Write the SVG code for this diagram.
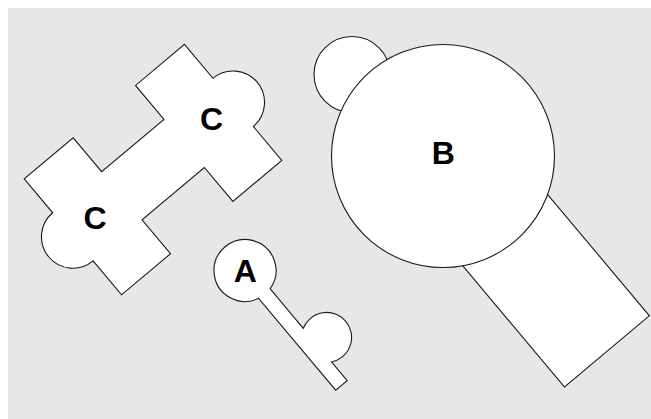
<svg xmlns="http://www.w3.org/2000/svg" width="651" height="419" viewBox="0 0 651 419">
<style>
.shape{fill:#ffffff;stroke:#1a1a1a;stroke-width:1.1;stroke-linejoin:miter}
.lbl{font-family:"Liberation Sans",Arial,Helvetica,sans-serif;font-weight:bold;font-size:32px;fill:#000;text-anchor:middle}
</style>
<rect x="0" y="0" width="651" height="419" fill="#ffffff"/>
<rect x="8" y="8" width="643" height="411" fill="#e6e7e9"/>
<g id="connectors"/>
<g id="node-C">
<path class="shape" transform="translate(153,169.6) rotate(-40)" d="M 104.6 -75.7 L 104.6 -31.4 A 31.4 31.4 0 0 1 104.6 31.4 L 104.6 75.7 L 40.7 75.7 L 40.7 31.4 L -40.7 31.4 L -40.7 75.7 L -104.6 75.7 L -104.6 31.4 A 31.4 31.4 0 0 1 -104.6 -31.4 L -104.6 -75.7 L -40.7 -75.7 L -40.7 -31.4 L 40.7 -31.4 L 40.7 -75.7 Z"/>
<text class="lbl" x="211.5" y="129.5">C</text>
<text class="lbl" x="95" y="228.5">C</text>
</g>
<g id="node-A">
<path class="shape" transform="translate(245,270.5) rotate(50)" d="M 30.08 -7.5 L 81.77 -7.5 A 25 25 0 1 1 125.63 -7.5 L 150 -7.5 L 150 7.5 L 30.08 7.5 A 31 31 0 1 1 30.08 -7.5 Z"/>
<text class="lbl" x="245.3" y="282">A</text>
</g>
<g id="node-B">
<rect class="shape" x="0" y="-55.4" width="255" height="110.8" transform="translate(443,156) rotate(50)"/>
<circle class="shape" cx="352" cy="74.5" r="38"/>
<circle class="shape" cx="443" cy="156" r="111.5"/>
<text class="lbl" x="443.3" y="164">B</text>
</g>
</svg>
